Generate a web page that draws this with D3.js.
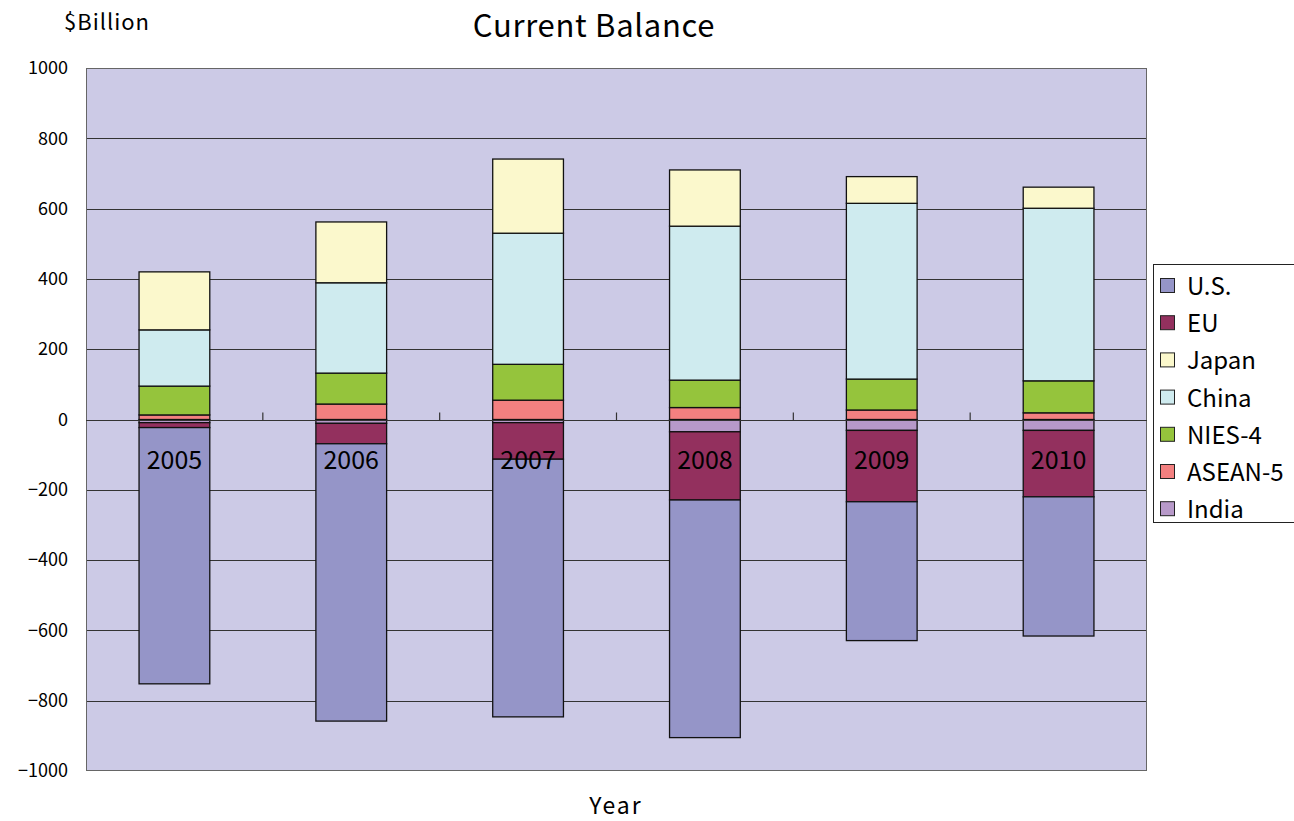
<!DOCTYPE html>
<html>
<head>
<meta charset="utf-8">
<script src="https://cdn.jsdelivr.net/npm/d3@7"></script>
<style>
  body { margin: 0; background: #fff; }
  svg { display: block; font-family: "Noto Sans CJK JP", "Noto Sans", sans-serif; }
</style>
</head>
<body>
<div id="chart"></div>
<script>
// Current balance by region, $ billion
const years = ['2005', '2006', '2007', '2008', '2009', '2010'];
const us     = [-729, -789, -733, -676, -395, -396];
const eu     = [-14, -58, -104, -194, -203, -189];
const japan  = [165, 173, 211, 160, 76, 60];
const china  = [160, 257, 373, 438, 500, 491];
const nies4  = [82, 88, 102, 78, 88, 91];
const asean5 = [13, 44, 55, 34, 27, 19];
const india  = [-9, -11, -9, -35, -31, -31];
const yTicks = [-1000, -800, -600, -400, -200, 0, 200, 400, 600, 800, 1000];

const legendKeys = ['U.S.', 'EU', 'Japan', 'China', 'NIES-4', 'ASEAN-5', 'India'];
// Excel-style stacking: India nearest the zero line, U.S. furthest out
const stackKeys = ['India', 'ASEAN-5', 'NIES-4', 'China', 'Japan', 'EU', 'U.S.'];
const colors = {
  'U.S.': '#9595c8', 'EU': '#93305e', 'Japan': '#fbf8cc', 'China': '#cfebef',
  'NIES-4': '#95c43c', 'ASEAN-5': '#f38080', 'India': '#b799c9'
};

const rows = years.map((year, i) => ({
  year,
  'U.S.': us[i], 'EU': eu[i], 'Japan': japan[i], 'China': china[i],
  'NIES-4': nies4[i], 'ASEAN-5': asean5[i], 'India': india[i]
}));

const W = 1294, H = 821;
const plot = { left: 86, right: 1147, top: 68, bottom: 771 };

const svg = d3.select('#chart').append('svg')
  .attr('width', W).attr('height', H);

const x = d3.scaleBand()
  .domain(years)
  .range([plot.left, plot.right])
  .paddingInner(0.6)
  .paddingOuter(0.3);
const y = d3.scaleLinear()
  .domain([-1000, 1000])
  .range([plot.bottom, plot.top]);

// Plot background
svg.append('rect')
  .attr('x', plot.left).attr('y', plot.top)
  .attr('width', plot.right - plot.left).attr('height', plot.bottom - plot.top)
  .attr('fill', '#cccae6');

// Gridlines
svg.append('g')
  .selectAll('line')
  .data(yTicks.filter(t => t !== -1000 && t !== 1000))
  .join('line')
    .attr('x1', plot.left).attr('x2', plot.right)
    .attr('y1', d => Math.round(y(d)) + 0.5).attr('y2', d => Math.round(y(d)) + 0.5)
    .attr('stroke', '#333').attr('stroke-width', 1.2);

// Plot border
svg.append('rect')
  .attr('x', plot.left + 0.5).attr('y', plot.top + 0.5)
  .attr('width', plot.right - plot.left - 1).attr('height', plot.bottom - plot.top - 1)
  .attr('fill', 'none').attr('stroke', '#666').attr('stroke-width', 1);

// Stacked bars
const series = d3.stack().keys(stackKeys).offset(d3.stackOffsetDiverging)(rows);
svg.append('g')
  .selectAll('g')
  .data(series)
  .join('g')
    .attr('fill', d => colors[d.key])
  .selectAll('rect')
  .data(d => d)
  .join('rect')
    .attr('x', d => x(d.data.year))
    .attr('width', x.bandwidth())
    .attr('y', d => y(Math.max(d[0], d[1])))
    .attr('height', d => Math.abs(y(d[0]) - y(d[1])))
    .attr('stroke', '#111').attr('stroke-width', 1.3);

// Y axis labels
svg.append('g')
  .attr('transform', `translate(${plot.left},0)`)
  .call(d3.axisLeft(y).tickValues(yTicks).tickSize(0).tickPadding(18).tickFormat(d3.format('d')))
  .call(g => g.select('.domain').remove())
  .call(g => g.selectAll('text').attr('font-size', 18).attr('fill', '#000')
    .attr('font-family', '"Noto Sans CJK JP", sans-serif'));

// Category axis on zero line: tick marks between categories, labels below
const zeroY = Math.round(y(0)) + 0.5;
svg.append('line')
  .attr('x1', plot.left).attr('x2', plot.right)
  .attr('y1', zeroY).attr('y2', zeroY)
  .attr('stroke', '#333').attr('stroke-width', 1.2);
const step = x.step();
svg.append('g')
  .selectAll('line')
  .data(years.slice(1))
  .join('line')
    .attr('x1', (d, i) => plot.left + step * (i + 1))
    .attr('x2', (d, i) => plot.left + step * (i + 1))
    .attr('y1', zeroY).attr('y2', zeroY - 8)
    .attr('stroke', '#333').attr('stroke-width', 1.2);
svg.append('g')
  .selectAll('text')
  .data(years)
  .join('text')
    .attr('x', d => x(d) + x.bandwidth() / 2)
    .attr('y', zeroY + 48)
    .attr('text-anchor', 'middle')
    .attr('font-size', 25)
    .attr('fill', '#000')
    .text(d => d);

// Titles
svg.append('text')
  .attr('x', 594).attr('y', 37)
  .attr('text-anchor', 'middle').attr('font-size', 31)
  .attr('letter-spacing', 0.7)
  .text('Current Balance');
svg.append('text')
  .attr('x', 64).attr('y', 30)
  .attr('font-size', 22).attr('letter-spacing', 1)
  .text('$Billion');
svg.append('text')
  .attr('x', 616).attr('y', 814)
  .attr('text-anchor', 'middle').attr('font-size', 23)
  .attr('letter-spacing', 2)
  .text('Year');

// Legend
const legend = svg.append('g').attr('transform', 'translate(1153,264)');
legend.append('rect')
  .attr('x', 0.5).attr('y', 0.5).attr('width', 160).attr('height', 258)
  .attr('fill', '#fff').attr('stroke', '#222');
const item = legend.selectAll('g.item')
  .data(legendKeys)
  .join('g')
    .attr('class', 'item')
    .attr('transform', (d, i) => `translate(0,${23 + i * 37.2})`);
item.append('rect')
  .attr('x', 7.5).attr('y', -8.5).attr('width', 14).attr('height', 14)
  .attr('fill', d => colors[d]).attr('stroke', '#222');
item.append('text')
  .attr('x', 34).attr('y', 8)
  .attr('font-size', 24)
  .text(d => d);
</script>
</body>
</html>
